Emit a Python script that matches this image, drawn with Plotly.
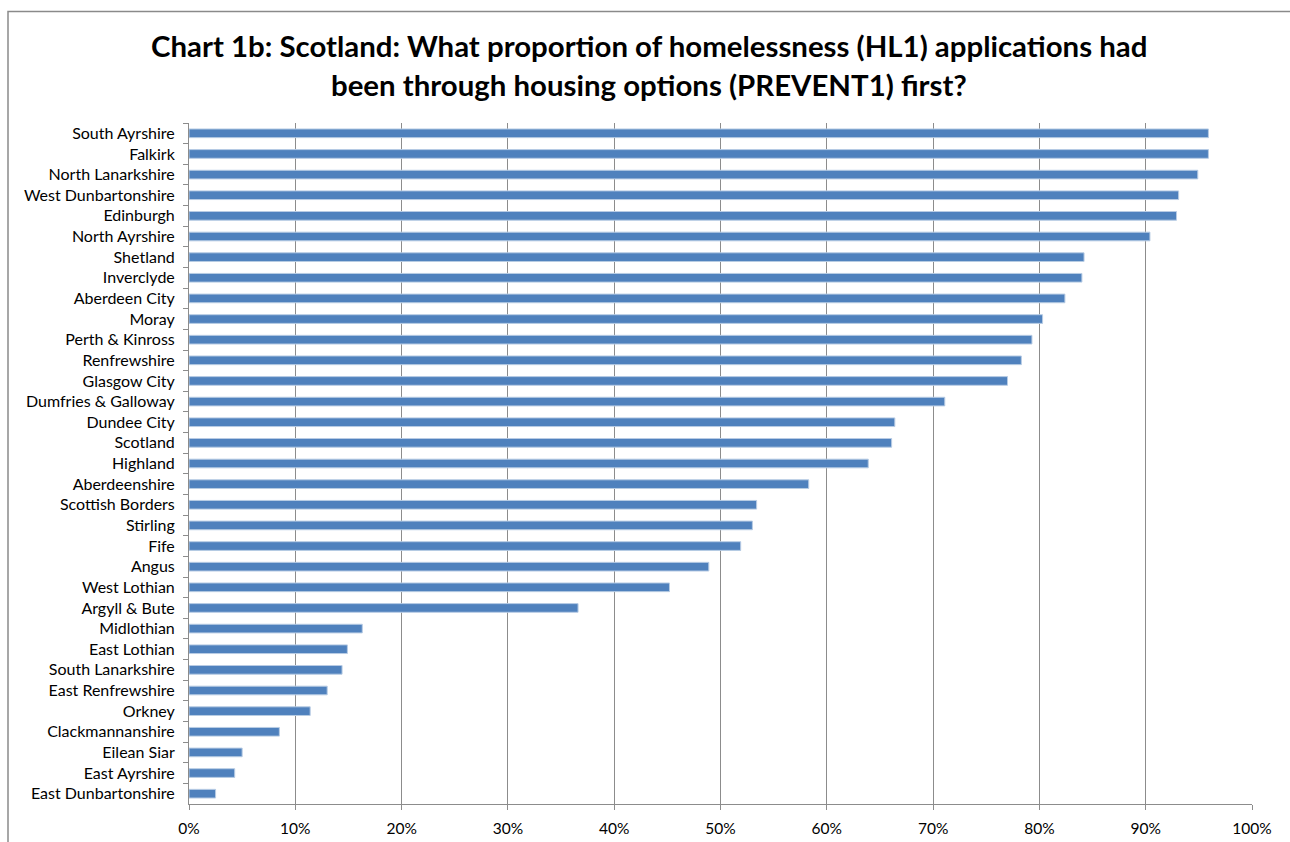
import plotly.graph_objects as go

# Local authorities, top to bottom
areas = [
    "South Ayrshire", "Falkirk", "North Lanarkshire", "West Dunbartonshire",
    "Edinburgh", "North Ayrshire", "Shetland", "Inverclyde", "Aberdeen City",
    "Moray", "Perth & Kinross", "Renfrewshire", "Glasgow City",
    "Dumfries & Galloway", "Dundee City", "Scotland", "Highland",
    "Aberdeenshire", "Scottish Borders", "Stirling", "Fife", "Angus",
    "West Lothian", "Argyll & Bute", "Midlothian", "East Lothian",
    "South Lanarkshire", "East Renfrewshire", "Orkney", "Clackmannanshire",
    "Eilean Siar", "East Ayrshire", "East Dunbartonshire",
]

# Share of HL1 applications that went through PREVENT1 first (fraction)
share = [
    0.959, 0.959, 0.949, 0.931, 0.929, 0.904, 0.842, 0.840, 0.824, 0.803,
    0.793, 0.783, 0.770, 0.711, 0.664, 0.661, 0.639, 0.583, 0.534, 0.530,
    0.519, 0.489, 0.452, 0.366, 0.163, 0.149, 0.144, 0.130, 0.114, 0.085,
    0.050, 0.043, 0.025,
]

x_ticks = [i / 10 for i in range(11)]

title_lines = [
    "Chart 1b: Scotland: What proportion of homelessness (HL1) applications had",
    "been through housing options (PREVENT1) first?",
]

W, H = 1290, 842
ML, MR, MT, MB = 189, 38, 123, 38
FONT = "Lato, 'Open Sans', sans-serif"
GRID = "#8c8c8c"

fig = go.Figure(
    go.Bar(
        x=share,
        y=areas,
        orientation="h",
        marker=dict(color="#4f81bd", line=dict(color="#b8cce4", width=1)),
        hoverinfo="x+y",
    )
)

# Convert pixel positions to paper coordinates
pw, ph = W - ML - MR, H - MT - MB
def px_x(p):
    return (p - ML) / pw
def px_y(p):
    return (H - MB - p) / ph

# Outer chart frame
fig.add_shape(
    type="rect", xref="paper", yref="paper",
    x0=px_x(8), x1=px_x(W + 20), y0=px_y(H + 20), y1=px_y(11.5),
    line=dict(color="#8a8a8a", width=1.5), fillcolor="rgba(0,0,0,0)",
    layer="below",
)

# Two-line bold title
for line, ypix in zip(title_lines, [45, 84.5]):
    fig.add_annotation(
        text=f"<b>{line}</b>", xref="paper", yref="paper",
        x=px_x(649), y=px_y(ypix), xanchor="center", yanchor="middle",
        showarrow=False,
        font=dict(family=FONT, size=29.4, color="#000000"),
    )

fig.update_layout(
    width=W, height=H,
    margin=dict(l=ML, r=MR, t=MT, b=MB, autoexpand=False),
    paper_bgcolor="white", plot_bgcolor="white",
    font=dict(family=FONT, size=15, color="#000000"),
    bargap=0.58,
    showlegend=False,
    xaxis=dict(
        range=[0, 1], tickvals=x_ticks, tickformat=".0%",
        showgrid=True, gridcolor=GRID, gridwidth=1,
        showline=True, linecolor=GRID, linewidth=1,
        ticks="outside", ticklen=5, tickcolor=GRID,
        zeroline=False, fixedrange=True, automargin=False,
        ticklabelstandoff=5,
        tickfont=dict(size=15.5),
    ),
    yaxis=dict(
        autorange="reversed", type="category",
        showgrid=False, showline=True, linecolor=GRID, linewidth=1,
        ticks="outside", ticklen=5, tickcolor=GRID, tickson="boundaries",
        ticklabelstandoff=10, fixedrange=True, automargin=False,
        tickfont=dict(size=16),
    ),
)

fig.write_html("out.html")
